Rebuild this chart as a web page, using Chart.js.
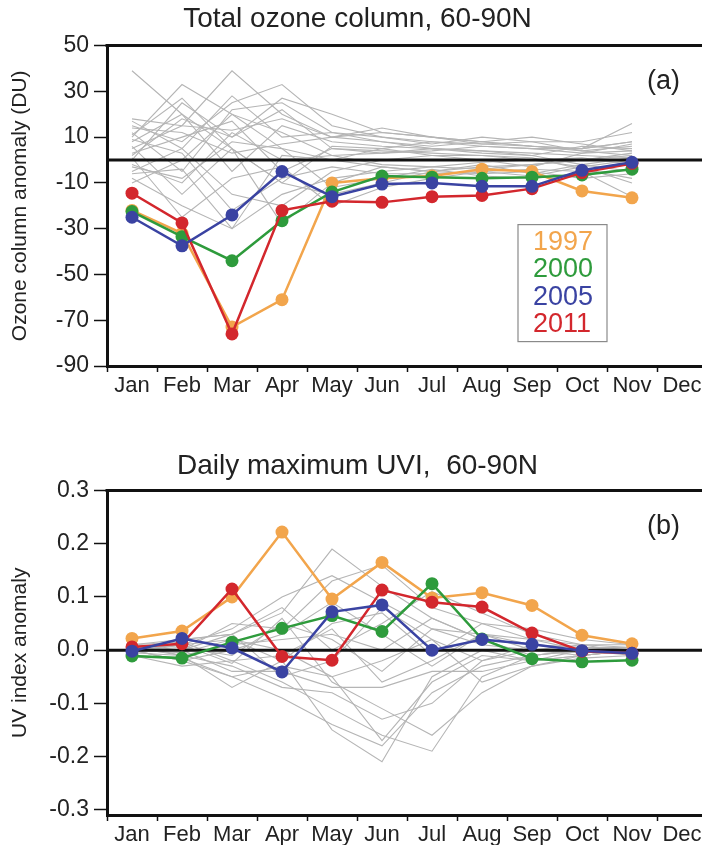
<!DOCTYPE html>
<html>
<head>
<meta charset="utf-8">
<script src="https://cdn.jsdelivr.net/npm/chart.js@4"></script>
<style>
  html, body { margin: 0; padding: 0; background: #fff; overflow: hidden; }
  #wrap { position: relative; width: 702px; height: 845px; overflow: hidden; }
  canvas { position: absolute; left: 0; }
  #c1 { top: 0; }
  #c2 { top: 420px; }
</style>
</head>
<body>
<div id="wrap">
  <canvas id="c1" width="720" height="420"></canvas>
  <canvas id="c2" width="720" height="425"></canvas>
</div>
<script>
// month labels
const months = ['Jan','Feb','Mar','Apr','May','Jun','Jul','Aug','Sep','Oct','Nov','Dec'];
const years = ['1997','2000','2005','2011'];

// colours
const C_ORANGE = '#f2a54c';
const C_GREEN  = '#2e9b3c';
const C_BLUE   = '#3a43a2';
const C_RED    = '#d3272d';
const C_GRAY   = '#b5b5b5';
const FONT = '"Liberation Sans", Arial, Helvetica, sans-serif';

// --- (a) total ozone anomaly, DU (Jan..Nov) ---
const ozone1997 = [-22, -32, -73, -61, -10, -8, -7, -4, -5, -13.5, -16.5];
const ozone2000 = [-22.5, -33.5, -44, -26.5, -14, -7, -7.5, -8, -7.5, -6.5, -4];
const ozone2005 = [-25, -37.5, -24, -5, -16, -10.5, -10, -11.5, -11.5, -4.5, -1];
const ozone2011 = [-14.5, -27.5, -76, -22, -18, -18.5, -16, -15.5, -12.5, -5.5, -1.5];
const ozoneOtherYears = [
  [39, 20, 5, -10, -15, -10, -5, -3, -2, 0, 2],
  [10, 33, 20, 5, 0, 5, 8, 6, 5, 3, 4],
  [5, 15, 39, 20, 10, 12, 10, 8, 6, 4, 6],
  [15, 8, 25, 33, 15, 10, 8, 7, 6, 5, 8],
  [0, 25, 10, 27, 20, 12, 10, 8, 6, 5, 16],
  [17, 5, 28, 10, 12, 8, 6, 8, 10, 7, 4],
  [12, -5, 22, 25, 12, 10, 7, 10, 8, 4, 2],
  [8, 20, -5, 15, 8, 6, 5, 4, 3, 2, 1],
  [3, 10, 17, -5, 5, 4, 3, 2, 0, 1, -2],
  [14, 12, 3, 7, 10, 8, 5, 3, 2, 6, 5],
  [-2, -10, 12, 0, 2, 3, 5, 4, 2, -2, -5],
  [-5, 5, -15, -20, -5, 0, 2, 2, 1, -4, -8],
  [-8, -20, -30, -15, -8, -5, -3, -1, 0, -3, -10],
  [-10, 0, 20, 12, 2, -2, -3, -4, -2, 0, 3],
  [6, -15, 5, -28, -10, -3, -5, -2, -6, -2, 1],
  [9, 3, -22, -8, -3, -6, -6, -5, -4, -5, -16],
  [2, 18, 10, 22, 5, 3, 4, 6, 5, 5, 8],
  [-3, -8, 8, 5, -12, -8, -4, -7, -8, -6, -4],
  [18, 15, 13, 18, 10, 14, 10, 7, 8, 8, 12],
  [-6, -4, -30, 2, 0, -3, -5, -6, -5, -8, -6],
  [1, -25, -8, -3, -20, -12, -8, -5, -7, -3, 0],
  [11, 27, 5, -10, 6, 5, 2, 0, -3, 3, 7]
];
const ozoneTicks = [-90, -70, -50, -30, -10, 10, 30, 50];

// --- (b) daily maximum UVI anomaly (Jan..Nov) ---
const uvi1997 = [0.022, 0.036, 0.10, 0.222, 0.096, 0.165, 0.098, 0.108, 0.084, 0.028, 0.012];
const uvi2000 = [-0.011, -0.015, 0.015, 0.041, 0.065, 0.035, 0.125, 0.021, -0.016, -0.022, -0.019];
const uvi2005 = [-0.002, 0.022, 0.004, -0.041, 0.072, 0.085, 0.0, 0.02, 0.011, -0.001, -0.006];
const uvi2011 = [0.006, 0.012, 0.115, -0.012, -0.019, 0.113, 0.09, 0.081, 0.032, -0.002, -0.006];
const uviOtherYears = [
  [0.01, 0.02, 0.03, 0.07, 0.19, 0.12, 0.06, 0.02, 0.01, 0.005, 0.005],
  [0.0, -0.02, -0.05, -0.09, -0.14, -0.18, -0.08, -0.03, -0.01, 0.0, 0.0],
  [0.005, -0.01, -0.07, -0.02, -0.15, -0.21, -0.05, 0.0, -0.02, -0.01, 0.0],
  [0.01, 0.0, 0.05, 0.04, 0.13, 0.16, 0.08, 0.05, 0.02, 0.01, 0.01],
  [-0.01, -0.03, -0.02, -0.06, -0.11, -0.16, -0.19, -0.05, -0.01, 0.0, 0.0],
  [0.0, 0.01, 0.04, 0.1, 0.14, 0.09, 0.04, 0.03, 0.01, 0.0, 0.005],
  [0.01, -0.01, -0.03, -0.07, -0.08, -0.13, -0.1, -0.02, 0.0, 0.01, -0.005],
  [-0.005, 0.01, 0.02, 0.0, -0.05, -0.17, -0.06, -0.01, -0.02, -0.01, 0.0],
  [0.0, -0.02, 0.0, 0.03, 0.09, 0.03, -0.03, 0.03, 0.02, 0.0, -0.01],
  [0.005, 0.0, -0.04, -0.04, -0.07, -0.07, -0.04, -0.04, -0.02, 0.0, 0.0],
  [0.0, 0.02, 0.03, 0.08, 0.0, 0.05, 0.11, 0.07, 0.03, 0.01, 0.005],
  [-0.01, -0.015, -0.05, -0.03, -0.05, -0.02, 0.02, -0.06, -0.03, -0.015, -0.01],
  [0.01, 0.005, -0.01, 0.05, 0.02, -0.04, 0.04, 0.01, 0.0, -0.005, 0.0],
  [0.0, -0.005, 0.02, -0.02, 0.05, 0.07, -0.01, 0.05, 0.04, 0.02, 0.01],
  [0.005, 0.01, -0.025, 0.06, -0.06, -0.11, -0.16, -0.08, -0.03, -0.01, 0.0],
  [-0.005, -0.01, 0.01, 0.02, 0.03, 0.0, 0.06, 0.02, -0.01, 0.0, -0.005],
  [0.0, 0.0, 0.03, -0.05, -0.02, 0.08, 0.02, -0.02, 0.01, 0.005, 0.0],
  [0.01, 0.015, -0.02, -0.01, 0.04, -0.06, -0.02, 0.03, 0.0, -0.01, 0.0]
];
const uviTicks = [-0.3, -0.2, -0.1, 0.0, 0.1, 0.2, 0.3];

// frame, zero line, panel tag, legend
const framePlugin = {
  id: 'frame',
  afterDatasetDraw(chart, args, opts) {
    // zero line sits above the grey years, below the highlighted ones
    if (args.index !== 4) return;
    const { ctx, chartArea: a, scales: { y } } = chart;
    const y0 = y.getPixelForValue(0);
    ctx.save();
    ctx.strokeStyle = '#111';
    ctx.lineWidth = 3;
    ctx.beginPath();
    ctx.moveTo(a.left, y0);
    ctx.lineTo(chart.width, y0);
    ctx.stroke();
    ctx.restore();
  },
  afterDraw(chart, args, opts) {
    const { ctx, chartArea: a } = chart;
    ctx.save();
    ctx.strokeStyle = '#111';
    ctx.lineWidth = 3;
    ctx.beginPath();
    ctx.moveTo(a.left - 1.5, a.top);
    ctx.lineTo(chart.width, a.top);
    ctx.stroke();

    ctx.fillStyle = '#222';
    ctx.font = '27px ' + FONT;
    ctx.textAlign = 'left';
    ctx.textBaseline = 'middle';
    ctx.fillText(opts.tag, a.left + 540, a.top + 36);

    if (opts.legend) {
      const bx = a.left + 411, by = a.top + 179;
      ctx.strokeStyle = '#8a8a8a';
      ctx.lineWidth = 1.2;
      ctx.strokeRect(bx, by, 89, 117);
      const cols = [C_ORANGE, C_GREEN, C_BLUE, C_RED];
      years.forEach((yr, i) => {
        ctx.fillStyle = cols[i];
        ctx.fillText(yr, bx + 15, by + 18 + i * 27.3);
      });
    }
    ctx.restore();
  }
};

function buildDatasets(series, others) {
  const cols = [C_BLUE, C_RED, C_GREEN, C_ORANGE];
  const ds = series.map((d, i) => ({
    data: d,
    borderColor: cols[i],
    backgroundColor: cols[i],
    borderWidth: 2.5,
    pointRadius: 6.5,
    pointBorderWidth: 0,
    pointBackgroundColor: cols[i]
  }));
  others.forEach(d => ds.push({
    data: d,
    borderColor: C_GRAY,
    borderWidth: 1.1,
    pointRadius: 0
  }));
  return ds;
}

function makeChart(id, cfg) {
  return new Chart(document.getElementById(id), {
    type: 'line',
    data: { labels: months, datasets: buildDatasets(cfg.series, cfg.others) },
    options: {
      responsive: false,
      animation: false,
      devicePixelRatio: 1,
      layout: { padding: { left: 8, right: 13, top: 0, bottom: 0 } },
      plugins: {
        legend: { display: false },
        tooltip: { enabled: false },
        title: {
          display: true,
          text: cfg.title,
          color: '#222',
          font: { family: FONT, size: 28, weight: 'normal' },
          padding: { top: cfg.titleTop, bottom: cfg.titleBottom }
        },
        frame: { tag: cfg.tag, legend: cfg.legend }
      },
      scales: {
        x: {
          offset: true,
          grid: { offset: true, drawOnChartArea: false, color: '#111', tickColor: '#111', tickLength: 6, tickWidth: 1.5 },
          border: { display: true, color: '#111', width: 3 },
          ticks: { color: '#222', padding: 1, font: { family: FONT, size: 22 }, maxRotation: 0, autoSkip: false },
          afterFit: s => { s.height = cfg.xHeight; }
        },
        y: {
          min: cfg.min, max: cfg.max,
          afterBuildTicks: s => { s.ticks = cfg.ticks.map(v => ({ value: v })); },
          grid: { drawOnChartArea: false, color: '#111', tickColor: '#111', tickLength: 13, tickWidth: 1.5 },
          border: { display: true, color: '#111', width: 3 },
          ticks: { color: '#222', padding: 5, font: { family: FONT, size: 23 }, callback: cfg.fmt },
          title: { display: true, text: cfg.yTitle, color: '#222', font: { family: FONT, size: 21 }, padding: 0 },
          afterFit: s => { s.width = 99; }
        }
      }
    },
    plugins: [framePlugin]
  });
}

makeChart('c1', {
  title: 'Total ozone column, 60-90N',
  titleTop: 2, titleBottom: 10,
  series: [ozone2005, ozone2011, ozone2000, ozone1997],
  others: ozoneOtherYears,
  min: -90, max: 50, ticks: ozoneTicks,
  fmt: v => String(v),
  yTitle: 'Ozone column anomaly (DU)',
  xHeight: 54,
  tag: '(a)', legend: true
});

makeChart('c2', {
  title: 'Daily maximum UVI,  60-90N',
  titleTop: 29, titleBottom: 8,
  series: [uvi2005, uvi2011, uvi2000, uvi1997],
  others: uviOtherYears,
  min: -0.31, max: 0.3, ticks: uviTicks,
  fmt: v => v.toFixed(1),
  yTitle: 'UV index anomaly',
  xHeight: 30,
  tag: '(b)', legend: false
});
</script>
</body>
</html>
